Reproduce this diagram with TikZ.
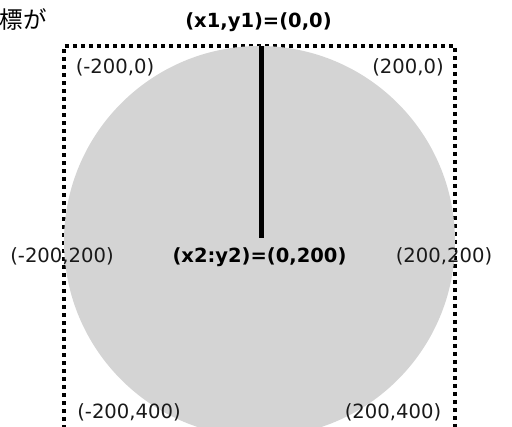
\documentclass[tikz,border=0pt]{standalone}
\usepackage{fontspec}
\setmainfont{DejaVu Sans}
\newfontfamily\labf[FakeStretch=1.0]{DejaVu Sans}
\newfontfamily\headf{DejaVu Sans}
\newfontfamily\jpf{Noto Sans CJK JP}
\definecolor{circgray}{RGB}{212,212,212}
\tikzset{
  coordlab/.style={font=\labf\fontsize{19.6}{22}\selectfont, inner sep=0pt, text=black!90},
  headlab/.style={font=\headf\bfseries\fontsize{19.5}{22}\selectfont, inner sep=0pt},
  dotbox/.style={line width=3.8pt, dash pattern=on 4.2pt off 3.8pt},
  radius line/.style={line width=5.5pt}
}
\begin{document}
\begin{tikzpicture}[x=1pt,y=-1pt]
\clip (0,0) rectangle (512,427);
\fill[white] (0,0) rectangle (512,427);
% dotted box
\coordinate (bl) at (64,445);
\coordinate (tl) at (64,46);
\coordinate (tr) at (455,46);
\coordinate (br) at (455,445);
\draw[dotbox] (bl) -- (tl) -- (tr) -- (br);
% circle
\fill[circgray] (259.5,241.5) circle[radius=195.5];
% radius line
\coordinate (top) at (261.5,46);
\coordinate (ctr) at (261.5,238);
\draw[radius line] (top) -- (ctr);
% labels
\node[font=\jpf\fontsize{23.5}{26}\selectfont, inner sep=0pt, anchor=east] (jp) at (47,20) {標が};
\node[headlab] (p1) at (258.5,22) {(x1,y1)=(0,0)};
\node[headlab] (p2) at (259.5,257) {(x2:y2)=(0,200)};
\node[coordlab] (a) at (115,67) {(-200,0)};
\node[coordlab] (b) at (408,67) {(200,0)};
\node[coordlab] (c) at (62,256) {(-200,200)};
\node[coordlab] (d) at (444,256) {(200,200)};
\node[coordlab] (e) at (129,412) {(-200,400)};
\node[coordlab] (f) at (393,412) {(200,400)};
\end{tikzpicture}
\end{document}
